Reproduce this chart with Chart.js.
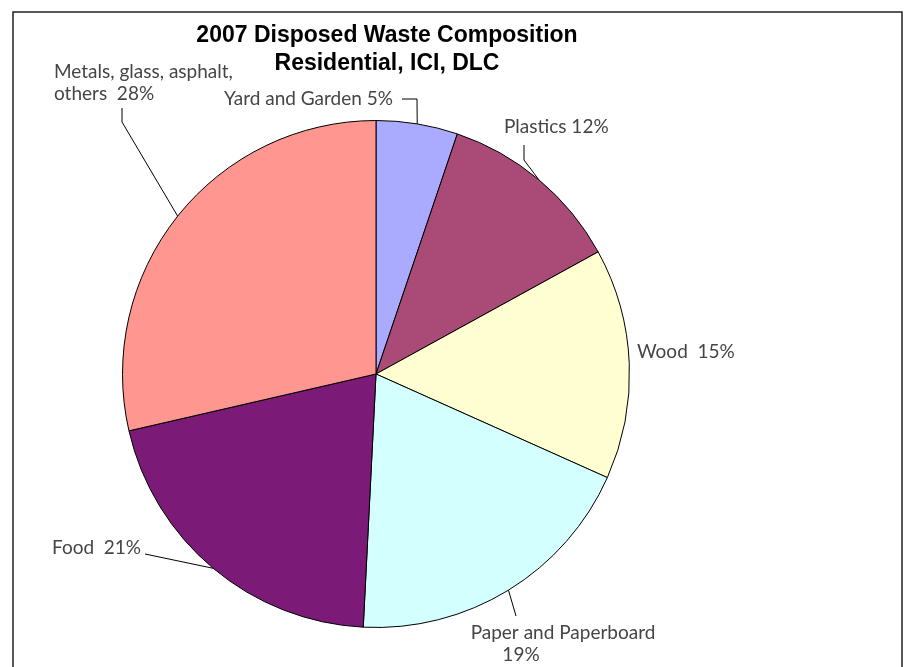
<!DOCTYPE html>
<html>
<head>
<meta charset="utf-8">
<script src="https://cdn.jsdelivr.net/npm/chart.js@4/dist/chart.umd.min.js"></script>
<style>
  html, body { margin: 0; padding: 0; background: #ffffff; }
  #wrap { width: 904px; height: 667px; position: relative; }
</style>
</head>
<body>
<div id="wrap"><canvas id="c" width="904" height="667"></canvas></div>
<script>
// ---- data ----
const categories = ["Yard and Garden", "Plastics", "Wood", "Paper and Paperboard", "Food", "Metals, glass, asphalt, others"];
const values = [5.2, 11.8, 14.7, 19.1, 20.6, 28.6];
const labelLines = [
  ["Yard and Garden 5%"],
  ["Plastics 12%"],
  ["Wood  15%"],
  ["Paper and Paperboard", "19%"],
  ["Food  21%"],
  ["Metals, glass, asphalt,", "others  28%"]
];
const colors = ["#AAAAFF", "#A94A77", "#FFFFD2", "#D4FFFF", "#7B1A77", "#FF9690"];
const titleLines = ["2007 Disposed Waste Composition", "Residential, ICI, DLC"];

// ---- label layout (pixel placement of text & leader elbows) ----
const labelLayout = [
  { x: 393, y: 99, align: "right", path: [[402, 99], [417, 99]] },
  { x: 504, y: 127, align: "left", path: [[524, 145], [524, 160]] },
  { x: 637, y: 352, align: "left", path: null },
  { x: [563, 521], y: 633, align: "center", path: [[516, 616]] },
  { x: 52, y: 548, align: "left", path: [[145, 554]] },
  { x: 54, y: 72, align: "left", path: [[122, 108], [122, 122]] }
];

const overlay = {
  id: "overlay",
  beforeDraw(chart) {
    const ctx = chart.ctx;
    ctx.save();
    ctx.fillStyle = "#ffffff";
    ctx.fillRect(0, 0, chart.width, chart.height);
    ctx.restore();
  },
  afterDraw(chart) {
    const ctx = chart.ctx;
    ctx.save();
    // frame
    ctx.strokeStyle = "#222222";
    ctx.lineWidth = 1.5;
    ctx.strokeRect(13, 12, 889, 700);
    // title
    ctx.fillStyle = "#000000";
    ctx.font = "bold 23px 'Liberation Sans', Arial, sans-serif";
    ctx.textAlign = "center";
    ctx.textBaseline = "middle";
    ctx.fillText(titleLines[0], 387, 36);
    ctx.fillText(titleLines[1], 387, 64);
    // labels
    const meta = chart.getDatasetMeta(0);
    ctx.font = "19px Lato, 'Open Sans', sans-serif";
    ctx.fillStyle = "#454545";
    ctx.strokeStyle = "#000000";
    ctx.lineWidth = 1;
    meta.data.forEach((arc, i) => {
      const L = labelLayout[i];
      const p = arc.getProps(["x", "y", "startAngle", "endAngle", "outerRadius"], true);
      const mid = (p.startAngle + p.endAngle) / 2;
      const ex = p.x + Math.cos(mid) * p.outerRadius;
      const ey = p.y + Math.sin(mid) * p.outerRadius;
      if (L.path) {
        ctx.beginPath();
        ctx.moveTo(L.path[0][0], L.path[0][1]);
        for (let k = 1; k < L.path.length; k++) ctx.lineTo(L.path[k][0], L.path[k][1]);
        ctx.lineTo(ex, ey);
        ctx.stroke();
      }
      ctx.textAlign = L.align;
      ctx.textBaseline = "middle";
      labelLines[i].forEach((t, j) => {
        const xx = Array.isArray(L.x) ? L.x[j] : L.x;
        ctx.fillText(t, xx, L.y + j * 22);
      });
    });
    ctx.restore();
  }
};

new Chart(document.getElementById("c"), {
  type: "pie",
  data: {
    labels: categories,
    datasets: [{
      data: values,
      backgroundColor: colors,
      borderColor: "#000000",
      borderWidth: 1,
      borderAlign: "center"
    }]
  },
  options: {
    responsive: false,
    animation: false,
    layout: { padding: { left: 122, right: 274, top: 120, bottom: 39 } },
    plugins: {
      legend: { display: false },
      title: { display: false },
      tooltip: { enabled: false }
    }
  },
  plugins: [overlay]
});
</script>
</body>
</html>
